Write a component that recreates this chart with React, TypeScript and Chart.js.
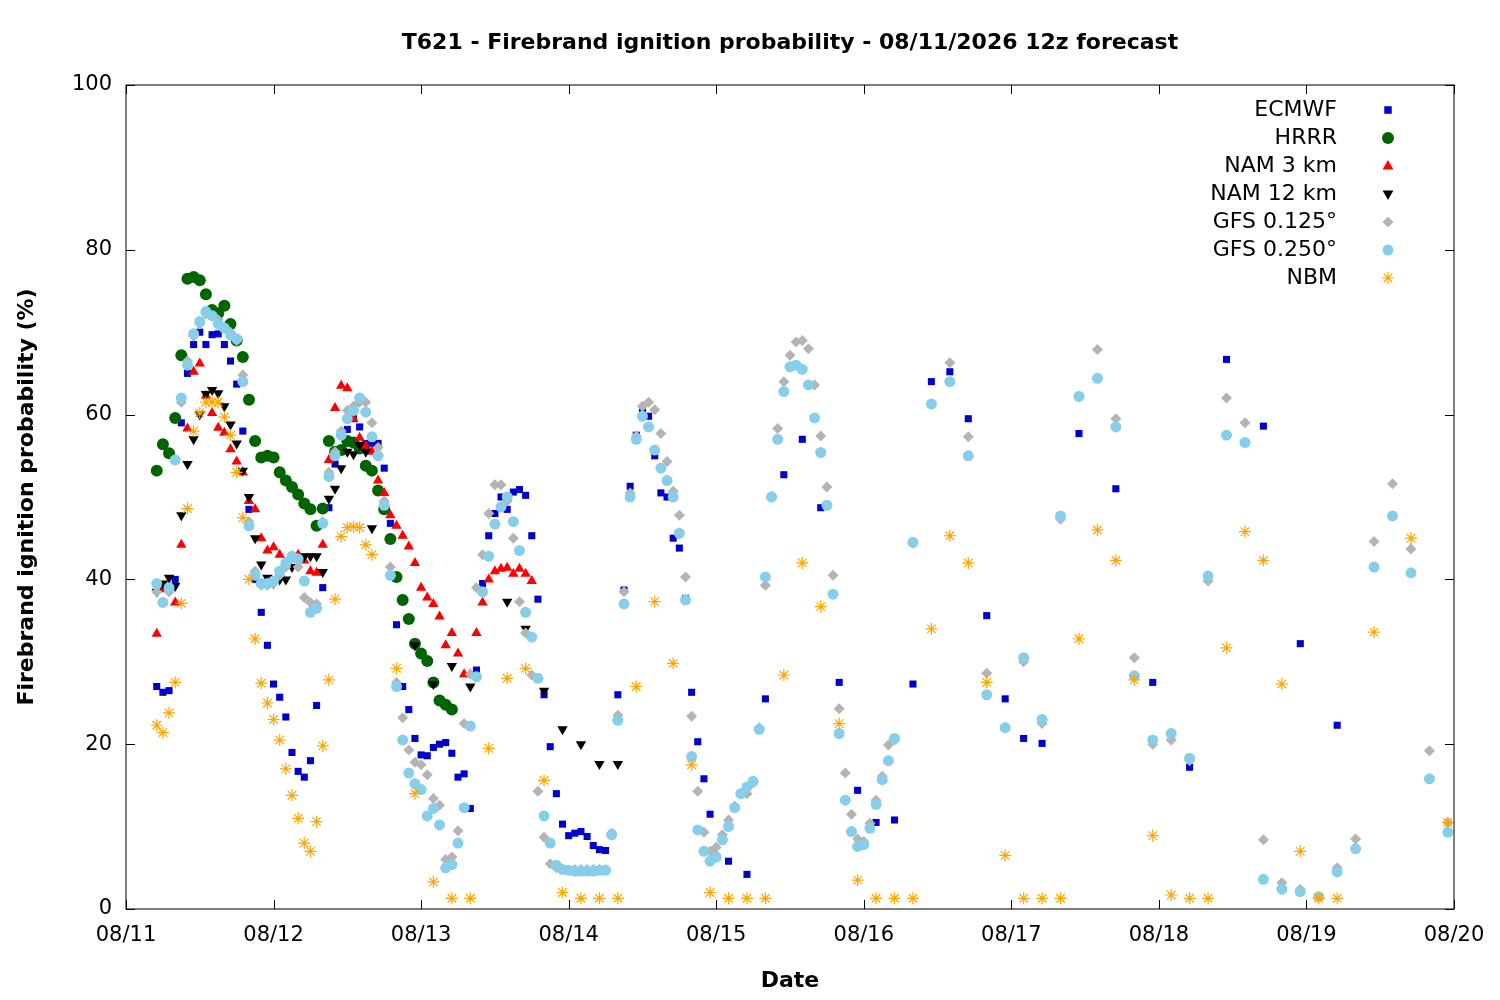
import React, { useEffect, useRef } from "react";
import { Chart, registerables } from "chart.js";
Chart.register(...registerables);

const TITLE = "T621 - Firebrand ignition probability - 08/11/2026 12z forecast";
const X_LABELS = ["08/11", "08/12", "08/13", "08/14", "08/15", "08/16", "08/17", "08/18", "08/19", "08/20"];
const Y_TICKS = [0, 20, 40, 60, 80, 100];

type Seg = { start: number; step: number; values: number[] };

const ECMWF: Seg[] = [
  { start: 5, step: 1, values: [27,26.3,26.5,40,59,65,68.5,70,68.5,69.7,69.8,68.5,66.5,63.7,58,48.5,40,36,32,27.3,25.7,23.3,19,16.7,16,18,24.7,39,48.7,54,55.5,58.2,59.5,58.5,56.5,56.5,56.5,53.5,46.8,34.5,27,24.2,20.7,18.7,18.6,19.6,20,20.2,18.9,16,16.4,12.2,29,39.5,45.3,48,50,48.5,50.6,50.9,50.2,45.3,37.6,26,19.7,14,10.3,8.9,9.2,9.4,8.8,7.7,7.2,7.1,9.1,26,38.7,51.3,57.5,60.3,59.8,55,50.5,50,45,43.8,37.7,26.3,20.3,15.8,11.5] },
  { start: 98, step: 3, values: [5.8,4.2,25.5,52.7,57,48.7,27.5,14.4,10.5,10.8,27.3,64,65.2,59.5,35.6,25.5,20.7,20.1] },
  { start: 155, step: 6, values: [57.7,51,27.5,17.2,66.7,58.6,32.2,22.3] },
];
const HRRR: Seg[] = [
  { start: 5, step: 1, values: [53.2,56.4,55.3,59.6,67.2,76.5,76.7,76.3,74.6,72.7,72.3,73.2,71,69,67,61.8,56.8,54.8,55,54.8,53,52,51.2,50.3,49.2,48.5,46.5,48.6,56.8,55.5,55.7,56.8,56.6,55.9,53.8,53.2,50.8,48.5,44.9,40.3,37.5,35.2,32.2,31,30.1,27.5,25.3,24.8,24.2] },
];
const NAM3: Seg[] = [
  { start: 5, step: 1, values: [33.4,38.8,39.2,37.2,44.2,58.3,65.2,66.2,62.3,60.2,58.4,57.8,55.8,54.3,53,49.5,48.5,45,43.5,43.9,43,42,42.8,43,42.3,41,40.8,44.2,54.5,60.8,63.5,63.2,59.5,57.2,56.2,55.5,52,50.5,47.8,46.5,45.3,44,42,39,37.8,37,35.5,32,33.5,31,28.5,28.5,33.5,37.2,40,41,41.3,41.4,40.7,41.3,40.7,39.8] },
];
const NAM12: Seg[] = [
  { start: 5, step: 1, values: [38.5,39.5,40.2,39.2,47.8,54,57,60,62.5,63,62.6,61,58.8,56.5,53.2,50,45,41.8,40.2,39.5,40,40,41.5,42.5,42.8,42.8,42.8,40.9,49.8,51,53.5,55.5,55.2,56.3,55.5,46.2] },
  { start: 47, step: 3, values: [32,27.3,29.5,27] },
  { start: 62, step: 3, values: [37.3,34,26.5,21.8,20,17.6,17.6] },
];
const GFS125: Seg[] = [
  { start: 5, step: 1, values: [38.5,37.2,38.5,54.5,61.5,66.5,69.5,71,72.2,72,71.5,70.5,70,69,64.8,47,41,39.3,39.3,39.5,40.5,41.5,42.5,41.5,37.8,37.2,37,47,53,55.5,58,60.5,61,61.5,61.5,59,56,49.5,41.5,27.5,23.2,19.3,17.8,17.5,16.3,13.4,12.6,6,6.3,9.5,22.5,28.5,39,43,48,51.5,51.5,49.5,45,37.3,33.5,28.4,14.3,8.7,5.5,5,4.8,4.7,4.8,4.8,4.8,4.8,4.8,4.8,9.2,23.5,38.5,50.5,57.4,61,61.5,60.6,57.7,54.3,50.7,47.8,40.3,23.4,14.3,9.3,7,7.5,9,10.8,12.5,14,14,15.3,22,39.3,50.1,58.3,64,67.2,68.8,69,68,63.6,57.4,51.2,40.5,24.3,16.5,11.5,8.5,8.2,10.4,13.2,16.1,19.9,20.5] },
  { start: 128, step: 3, values: [44.4,61.3,66.3,57.3,28.6,22,30,22.5,47.3,62.2,67.9,59.5,30.5,20,20.5,18,39.8,62,59,8.4,3.2,2.4,1.5,5,8.5,44.6,51.6,43.7,19.2,10.5] },
];
const GFS250: Seg[] = [
  { start: 5, step: 1, values: [39.5,37.2,39,54.5,62,66,69.8,71.3,72.5,72,71,70.5,69.7,69.2,64,46.5,40.5,39.5,39.5,39.8,41,42,42.8,42.5,39.8,36,36.5,46.8,52.5,55,57.5,59.5,60.5,62,60.3,57.3,55,49,40.5,27,20.5,16.5,15.2,14.5,11.3,12.2,10.2,5,5.4,8,12.3,22.2,28.2,38.5,42.8,46.7,48.8,50,47,43.5,36,33,28,11.3,8,5.3,4.8,4.7,4.6,4.6,4.6,4.6,4.7,4.7,9,22.9,37,50,57,59.8,58.5,55.7,53.5,52,50,45.6,37.5,18.5,9.6,7,5.8,6.3,8.4,10,12.3,14,14.8,15.5,21.8,40.3,50,57,62.8,65.8,66,65.5,63.6,59.6,55.4,49,38.2,21.3,13.2,9.4,7.6,7.8,9.8,12.7,15.7,18,20.7] },
  { start: 128, step: 3, values: [44.5,61.3,64,55,26,22,30.5,23,47.7,62.2,64.4,58.5,28.3,20.5,21.3,18.3,40.4,57.5,56.6,3.6,2.4,2.1,1.5,4.5,7.3,41.5,47.7,40.8,15.8,9.3] },
];
const NBM: Seg[] = [
  { start: 5, step: 1, values: [22.3,21.4,23.8,27.5,37.1,48.6,58,60.2,61.5,61.5,61.5,59.7,57.5,53,47.5,40,32.8,27.4,25,23,20.5,17,13.8,11,8,7,10.6,19.8,27.8,37.6,45.2,46.3,46.4,46.3,44.2,43] },
  { start: 44, step: 3, values: [29.2,14,3.3,1.3,1.3,19.5,28,29.2,15.6,2,1.3,1.3,1.3,27,37.3,29.8,17.5,2,1.3,1.3,1.3,28.4,42,36.7,22.5,3.5,1.3,1.3,1.3,34,45.3,42,27.5,6.5,1.3,1.3,1.3,32.8,46,42.3,27.8,8.9,1.7,1.3,1.3,31.7,45.8,42.3,27.3,7,1.3,1.3] },
  { start: 203, step: 6, values: [33.6,45,10.5] },
];

const toPoints = (segs: Seg[]) =>
  segs.flatMap((s) => s.values.map((v, i) => ({ x: s.start + i * s.step, y: v })));

const SERIES = [
  { label: "ECMWF", data: ECMWF, color: "#0000cc", style: "rect", r: 5 },
  { label: "HRRR", data: HRRR, color: "#006400", style: "circle", r: 6 },
  { label: "NAM 3 km", data: NAM3, color: "#ff0000", style: "triangle", r: 6 },
  { label: "NAM 12 km", data: NAM12, color: "#000000", style: "triangle", r: 6, rot: 180 },
  { label: "GFS 0.125°", data: GFS125, color: "#b4b4b4", style: "rectRot", r: 5.5 },
  { label: "GFS 0.250°", data: GFS250, color: "#87ceeb", style: "circle", r: 5.5 },
  { label: "NBM", data: NBM, color: "#ffa500", style: "star", r: 6 },
];

const FONT = "'DejaVu Sans', sans-serif";

function drawMarker(ctx: CanvasRenderingContext2D, s: any, x: number, y: number) {
  ctx.save();
  ctx.fillStyle = s.color;
  ctx.strokeStyle = s.color;
  ctx.lineWidth = 1.2;
  const r = s.r;
  ctx.beginPath();
  if (s.style === "rect") ctx.rect(x - r * 0.75, y - r * 0.75, r * 1.5, r * 1.5);
  else if (s.style === "circle") ctx.arc(x, y, r, 0, Math.PI * 2);
  else if (s.style === "rectRot") { ctx.moveTo(x, y - r); ctx.lineTo(x + r, y); ctx.lineTo(x, y + r); ctx.lineTo(x - r, y); ctx.closePath(); }
  else if (s.style === "triangle") {
    const d = s.rot ? -1 : 1;
    ctx.moveTo(x, y - d * r); ctx.lineTo(x + r * 0.9, y + d * r * 0.6); ctx.lineTo(x - r * 0.9, y + d * r * 0.6); ctx.closePath();
  }
  if (s.style === "star") {
    for (let k = 0; k < 4; k++) {
      const a = (k * Math.PI) / 4;
      ctx.moveTo(x - r * Math.cos(a), y - r * Math.sin(a));
      ctx.lineTo(x + r * Math.cos(a), y + r * Math.sin(a));
    }
    ctx.stroke();
  } else ctx.fill();
  ctx.restore();
}

const framePlugin = {
  id: "frame",
  afterDraw(chart: any) {
    const { ctx, chartArea: a, scales } = chart;
    ctx.save();
    ctx.strokeStyle = "#000";
    ctx.lineWidth = 1;
    ctx.strokeRect(a.left, a.top, a.right - a.left, a.bottom - a.top);
    ctx.beginPath();
    for (const t of Y_TICKS) {
      const y = Math.round(scales.y.getPixelForValue(t)) + 0.5;
      ctx.moveTo(a.left, y); ctx.lineTo(a.left + 9, y);
      ctx.moveTo(a.right, y); ctx.lineTo(a.right - 9, y);
    }
    X_LABELS.forEach((_, i) => {
      const x = Math.round(scales.x.getPixelForValue(i * 24)) + 0.5;
      ctx.moveTo(x, a.bottom); ctx.lineTo(x, a.bottom - 9);
      ctx.moveTo(x, a.top); ctx.lineTo(x, a.top + 9);
    });
    ctx.stroke();
    // titles
    ctx.fillStyle = "#000";
    ctx.textAlign = "center";
    ctx.textBaseline = "middle";
    ctx.font = `bold 22px ${FONT}`;
    ctx.fillText(TITLE, (a.left + a.right) / 2, 43);
    ctx.fillText("Date", (a.left + a.right) / 2, 981);
    ctx.save();
    ctx.translate(27, (a.top + a.bottom) / 2);
    ctx.rotate(-Math.PI / 2);
    ctx.fillText("Firebrand ignition probability (%)", 0, 0);
    ctx.restore();
    // legend
    ctx.font = `22px ${FONT}`;
    ctx.textAlign = "right";
    SERIES.forEach((s, i) => {
      const y = 110 + i * 28;
      ctx.fillText(s.label, 1337, y);
      drawMarker(ctx, s, 1388, y);
    });
    ctx.restore();
  },
};

export default function App() {
  const ref = useRef<HTMLCanvasElement>(null);
  useEffect(() => {
    document.body.style.margin = "0";
    const n = SERIES.length;
    const chart = new Chart(ref.current!, {
      type: "scatter",
      data: {
        datasets: SERIES.map((s, i) => ({
          label: s.label,
          data: toPoints(s.data),
          order: n - i,
          pointStyle: s.style as any,
          pointRotation: (s as any).rot || 0,
          pointRadius: s.r,
          backgroundColor: s.color,
          borderColor: s.color,
          borderWidth: s.style === "star" ? 1.2 : 0,
        })),
      },
      options: {
        animation: false,
        responsive: false,
        layout: { padding: { left: 0, right: 46, top: 85, bottom: 0 } },
        plugins: { legend: { display: false }, tooltip: { enabled: false }, title: { display: false } },
        scales: {
          x: {
            type: "linear", min: 0, max: 216,
            afterFit: (s: any) => { s.height = 91; },
            grid: { display: false, drawTicks: false },
            border: { display: false },
            ticks: {
              stepSize: 24, padding: 14, color: "#000", maxRotation: 0,
              font: { family: FONT, size: 21 },
              callback: (v: any) => X_LABELS[Math.round(Number(v) / 24)] ?? "",
            },
          },
          y: {
            min: 0, max: 100,
            afterFit: (s: any) => { s.width = 126; },
            grid: { display: false, drawTicks: false },
            border: { display: false },
            ticks: { stepSize: 20, padding: 14, color: "#000", font: { family: FONT, size: 21 } },
          },
        },
      },
      plugins: [framePlugin],
    });
    return () => chart.destroy();
  }, []);
  return <canvas ref={ref} width={1500} height={1000} style={{ display: "block" }} />;
}
